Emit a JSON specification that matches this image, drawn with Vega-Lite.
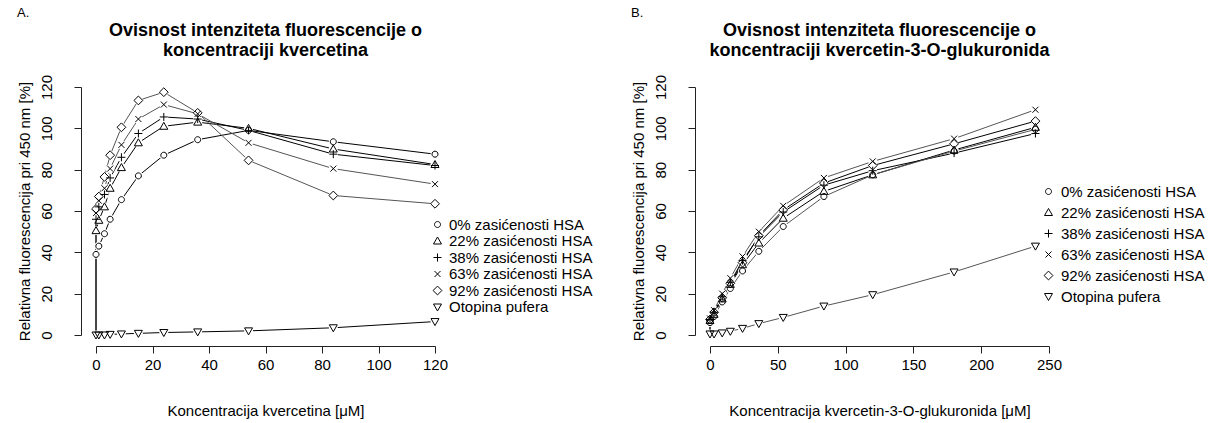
{
  "$schema": "https://vega.github.io/schema/vega-lite/v6.json",
  "background": "white",
  "padding": {"left": 16, "top": 7, "right": 5, "bottom": 5},
  "config": {
    "font": "Liberation Sans",
    "view": {"stroke": null},
    "axis": {"grid": false, "domainColor": "#222", "tickColor": "#222", "labelColor": "#000", "titleColor": "#000", "labelFontSize": 15, "titleFontSize": 15, "titleFontWeight": "normal", "labelFlush": false, "labelOverlap": false, "tickSize": 7},
    "title": {"color": "#000"}
  },
  "datasets": {
    "a": [
      {"c": 0, "f": 0, "s": "0% zasićenosti HSA"}, {"c": 0, "f": 39, "s": "0% zasićenosti HSA"}, {"c": 1, "f": 43, "s": "0% zasićenosti HSA"}, {"c": 3, "f": 49, "s": "0% zasićenosti HSA"}, {"c": 5, "f": 56, "s": "0% zasićenosti HSA"}, {"c": 9, "f": 65.5, "s": "0% zasićenosti HSA"}, {"c": 15, "f": 77, "s": "0% zasićenosti HSA"}, {"c": 24, "f": 87, "s": "0% zasićenosti HSA"}, {"c": 36, "f": 94.5, "s": "0% zasićenosti HSA"}, {"c": 54, "f": 99, "s": "0% zasićenosti HSA"}, {"c": 84, "f": 93.5, "s": "0% zasićenosti HSA"}, {"c": 120, "f": 87.5, "s": "0% zasićenosti HSA"},
      {"c": 0, "f": 0, "s": "22% zasićenosti HSA"}, {"c": 0, "f": 50.5, "s": "22% zasićenosti HSA"}, {"c": 1, "f": 55.5, "s": "22% zasićenosti HSA"}, {"c": 3, "f": 62, "s": "22% zasićenosti HSA"}, {"c": 5, "f": 71, "s": "22% zasićenosti HSA"}, {"c": 9, "f": 81, "s": "22% zasićenosti HSA"}, {"c": 15, "f": 93, "s": "22% zasićenosti HSA"}, {"c": 24, "f": 101, "s": "22% zasićenosti HSA"}, {"c": 36, "f": 103, "s": "22% zasićenosti HSA"}, {"c": 54, "f": 100, "s": "22% zasićenosti HSA"}, {"c": 84, "f": 90, "s": "22% zasićenosti HSA"}, {"c": 120, "f": 82.5, "s": "22% zasićenosti HSA"},
      {"c": 0, "f": 0, "s": "38% zasićenosti HSA"}, {"c": 0, "f": 56, "s": "38% zasićenosti HSA"}, {"c": 1, "f": 62, "s": "38% zasićenosti HSA"}, {"c": 3, "f": 68, "s": "38% zasićenosti HSA"}, {"c": 5, "f": 76, "s": "38% zasićenosti HSA"}, {"c": 9, "f": 86, "s": "38% zasićenosti HSA"}, {"c": 15, "f": 97.5, "s": "38% zasićenosti HSA"}, {"c": 24, "f": 105.5, "s": "38% zasićenosti HSA"}, {"c": 36, "f": 104.5, "s": "38% zasićenosti HSA"}, {"c": 54, "f": 99, "s": "38% zasićenosti HSA"}, {"c": 84, "f": 87.5, "s": "38% zasićenosti HSA"}, {"c": 120, "f": 82, "s": "38% zasićenosti HSA"},
      {"c": 0, "f": 0, "s": "63% zasićenosti HSA"}, {"c": 0, "f": 59, "s": "63% zasićenosti HSA"}, {"c": 1, "f": 65, "s": "63% zasićenosti HSA"}, {"c": 3, "f": 71, "s": "63% zasićenosti HSA"}, {"c": 5, "f": 80.5, "s": "63% zasićenosti HSA"}, {"c": 9, "f": 92, "s": "63% zasićenosti HSA"}, {"c": 15, "f": 104.5, "s": "63% zasićenosti HSA"}, {"c": 24, "f": 111.5, "s": "63% zasićenosti HSA"}, {"c": 36, "f": 107, "s": "63% zasićenosti HSA"}, {"c": 54, "f": 93, "s": "63% zasićenosti HSA"}, {"c": 84, "f": 80.5, "s": "63% zasićenosti HSA"}, {"c": 120, "f": 73, "s": "63% zasićenosti HSA"},
      {"c": 0, "f": 0, "s": "92% zasićenosti HSA"}, {"c": 0, "f": 61, "s": "92% zasićenosti HSA"}, {"c": 1, "f": 67, "s": "92% zasićenosti HSA"}, {"c": 3, "f": 76.5, "s": "92% zasićenosti HSA"}, {"c": 5, "f": 87, "s": "92% zasićenosti HSA"}, {"c": 9, "f": 100.5, "s": "92% zasićenosti HSA"}, {"c": 15, "f": 113.5, "s": "92% zasićenosti HSA"}, {"c": 24, "f": 117.5, "s": "92% zasićenosti HSA"}, {"c": 36, "f": 107.5, "s": "92% zasićenosti HSA"}, {"c": 54, "f": 84.5, "s": "92% zasićenosti HSA"}, {"c": 84, "f": 67.5, "s": "92% zasićenosti HSA"}, {"c": 120, "f": 63.5, "s": "92% zasićenosti HSA"},
      {"c": 0, "f": 0, "s": "Otopina pufera"}, {"c": 1, "f": 0, "s": "Otopina pufera"}, {"c": 3, "f": 0, "s": "Otopina pufera"}, {"c": 5, "f": 0.3, "s": "Otopina pufera"}, {"c": 9, "f": 0.5, "s": "Otopina pufera"}, {"c": 15, "f": 0.8, "s": "Otopina pufera"}, {"c": 24, "f": 1.2, "s": "Otopina pufera"}, {"c": 36, "f": 1.5, "s": "Otopina pufera"}, {"c": 54, "f": 2, "s": "Otopina pufera"}, {"c": 84, "f": 3.5, "s": "Otopina pufera"}, {"c": 120, "f": 6.5, "s": "Otopina pufera"}
    ],
    "b": [
      {"c": 0, "f": 0, "s": "0% zasićenosti HSA"}, {"c": 0, "f": 6, "s": "0% zasićenosti HSA"}, {"c": 3, "f": 9, "s": "0% zasićenosti HSA"}, {"c": 9, "f": 16, "s": "0% zasićenosti HSA"}, {"c": 15, "f": 22.5, "s": "0% zasićenosti HSA"}, {"c": 24, "f": 31, "s": "0% zasićenosti HSA"}, {"c": 36, "f": 40.5, "s": "0% zasićenosti HSA"}, {"c": 54, "f": 52.5, "s": "0% zasićenosti HSA"}, {"c": 84, "f": 67, "s": "0% zasićenosti HSA"}, {"c": 120, "f": 77.5, "s": "0% zasićenosti HSA"}, {"c": 180, "f": 89, "s": "0% zasićenosti HSA"}, {"c": 240, "f": 99.5, "s": "0% zasićenosti HSA"},
      {"c": 0, "f": 0, "s": "22% zasićenosti HSA"}, {"c": 0, "f": 7, "s": "22% zasićenosti HSA"}, {"c": 3, "f": 10, "s": "22% zasićenosti HSA"}, {"c": 9, "f": 17.5, "s": "22% zasićenosti HSA"}, {"c": 15, "f": 24.5, "s": "22% zasićenosti HSA"}, {"c": 24, "f": 34, "s": "22% zasićenosti HSA"}, {"c": 36, "f": 44.5, "s": "22% zasićenosti HSA"}, {"c": 54, "f": 56.5, "s": "22% zasićenosti HSA"}, {"c": 84, "f": 69.5, "s": "22% zasićenosti HSA"}, {"c": 120, "f": 77.5, "s": "22% zasićenosti HSA"}, {"c": 180, "f": 89.5, "s": "22% zasićenosti HSA"}, {"c": 240, "f": 100.5, "s": "22% zasićenosti HSA"},
      {"c": 0, "f": 0, "s": "38% zasićenosti HSA"}, {"c": 0, "f": 7.5, "s": "38% zasićenosti HSA"}, {"c": 3, "f": 11, "s": "38% zasićenosti HSA"}, {"c": 9, "f": 18.5, "s": "38% zasićenosti HSA"}, {"c": 15, "f": 25.5, "s": "38% zasićenosti HSA"}, {"c": 24, "f": 36, "s": "38% zasićenosti HSA"}, {"c": 36, "f": 47.5, "s": "38% zasićenosti HSA"}, {"c": 54, "f": 59.5, "s": "38% zasićenosti HSA"}, {"c": 84, "f": 72.5, "s": "38% zasićenosti HSA"}, {"c": 120, "f": 79.5, "s": "38% zasićenosti HSA"}, {"c": 180, "f": 88, "s": "38% zasićenosti HSA"}, {"c": 240, "f": 97.5, "s": "38% zasićenosti HSA"},
      {"c": 0, "f": 0, "s": "63% zasićenosti HSA"}, {"c": 0, "f": 8, "s": "63% zasićenosti HSA"}, {"c": 3, "f": 12, "s": "63% zasićenosti HSA"}, {"c": 9, "f": 20, "s": "63% zasićenosti HSA"}, {"c": 15, "f": 27.5, "s": "63% zasićenosti HSA"}, {"c": 24, "f": 38, "s": "63% zasićenosti HSA"}, {"c": 36, "f": 50, "s": "63% zasićenosti HSA"}, {"c": 54, "f": 62.5, "s": "63% zasićenosti HSA"}, {"c": 84, "f": 76, "s": "63% zasićenosti HSA"}, {"c": 120, "f": 84, "s": "63% zasićenosti HSA"}, {"c": 180, "f": 95, "s": "63% zasićenosti HSA"}, {"c": 240, "f": 109, "s": "63% zasićenosti HSA"},
      {"c": 0, "f": 0, "s": "92% zasićenosti HSA"}, {"c": 0, "f": 7.5, "s": "92% zasićenosti HSA"}, {"c": 3, "f": 11, "s": "92% zasićenosti HSA"}, {"c": 9, "f": 18, "s": "92% zasićenosti HSA"}, {"c": 15, "f": 25, "s": "92% zasićenosti HSA"}, {"c": 24, "f": 35, "s": "92% zasićenosti HSA"}, {"c": 36, "f": 48, "s": "92% zasićenosti HSA"}, {"c": 54, "f": 60.5, "s": "92% zasićenosti HSA"}, {"c": 84, "f": 73.5, "s": "92% zasićenosti HSA"}, {"c": 120, "f": 82, "s": "92% zasićenosti HSA"}, {"c": 180, "f": 92.5, "s": "92% zasićenosti HSA"}, {"c": 240, "f": 103.5, "s": "92% zasićenosti HSA"},
      {"c": 0, "f": 0.5, "s": "Otopina pufera"}, {"c": 3, "f": 0.5, "s": "Otopina pufera"}, {"c": 9, "f": 1, "s": "Otopina pufera"}, {"c": 15, "f": 1.8, "s": "Otopina pufera"}, {"c": 24, "f": 3.2, "s": "Otopina pufera"}, {"c": 36, "f": 5.5, "s": "Otopina pufera"}, {"c": 54, "f": 8.5, "s": "Otopina pufera"}, {"c": 84, "f": 14, "s": "Otopina pufera"}, {"c": 120, "f": 19.5, "s": "Otopina pufera"}, {"c": 180, "f": 30.5, "s": "Otopina pufera"}, {"c": 240, "f": 43, "s": "Otopina pufera"}
    ]
  },
  "resolve": {"scale": {"x": "independent", "y": "independent", "shape": "independent"}, "legend": {"shape": "independent"}},
  "spacing": 37,
  "hconcat": [
    {
      "title": {"text": "A.", "anchor": "start", "frame": "bounds", "fontSize": 13, "fontWeight": "normal", "offset": 2},
      "resolve": {"scale": {"shape": "independent"}, "legend": {"shape": "independent"}},
      "vconcat": [
        {
          "width": 339, "height": 248,
          "title": {"text": ["Ovisnost intenziteta fluorescencije o", "koncentraciji kvercetina"], "fontSize": 18, "fontWeight": "bold", "lineHeight": 20, "anchor": "middle", "offset": 14},
          "data": {"name": "a"},
          "encoding": {
            "x": {"field": "c", "type": "quantitative", "scale": {"domain": [0, 120], "nice": false, "zero": false},
                  "axis": {"values": [0, 20, 40, 60, 80, 100, 120], "offset": 11, "labelPadding": 4, "titlePadding": 31, "title": "Koncentracija kvercetina [μM]"}},
            "y": {"field": "f", "type": "quantitative", "scale": {"domain": [0, 120], "nice": false, "zero": false},
                  "axis": {"values": [0, 20, 40, 60, 80, 100, 120], "offset": 15, "labelAngle": -90, "labelAlign": "center", "labelBaseline": "bottom", "labelPadding": 20, "titlePadding": 7, "title": "Relativna fluorescencija pri 450 nm [%]"}}
          },
          "layer": [
            {"transform": [{"filter": {"field": "s", "oneOf": ["0% zasićenosti HSA", "22% zasićenosti HSA", "38% zasićenosti HSA", "Otopina pufera"]}}],
             "mark": {"type": "line", "strokeWidth": 1, "color": "#000"},
             "encoding": {"detail": {"field": "s", "type": "nominal"}}},
            {"transform": [{"filter": {"field": "s", "oneOf": ["63% zasićenosti HSA", "92% zasićenosti HSA"]}}],
             "mark": {"type": "line", "strokeWidth": 1, "color": "#555"},
             "encoding": {"detail": {"field": "s", "type": "nominal"}}},
            {"transform": [{"filter": "datum.f > 0 || datum.s == 'Otopina pufera'"}],
             "mark": {"type": "point", "filled": true, "color": "white", "opacity": 1, "size": 80, "strokeWidth": 0},
             "encoding": {"detail": {"field": "s", "type": "nominal"}}},
            {"transform": [{"filter": "datum.f > 0 || datum.s == 'Otopina pufera'"}],
             "mark": {"type": "point", "filled": false, "opacity": 1, "strokeWidth": 1, "color": "#000", "size": 64},
             "encoding": {
               "shape": {"field": "s", "type": "nominal", "title": null,
                         "scale": {"domain": ["0% zasićenosti HSA", "22% zasićenosti HSA", "38% zasićenosti HSA", "63% zasićenosti HSA", "92% zasićenosti HSA", "Otopina pufera"],
                                   "range": ["M-0.75,0A0.75,0.75,0,1,0,0.75,0A0.75,0.75,0,1,0,-0.75,0Z", "M0,-1L1,0.75L-1,0.75Z", "M-1,0L1,0M0,-1L0,1", "M-0.75,-0.75L0.75,0.75M-0.75,0.75L0.75,-0.75", "M0,-1.1L1.1,0L0,1.1L-1.1,0Z", "M0,1L1,-0.75L-1,-0.75Z"]},
                         "legend": {"orient": "none", "legendX": 334, "legendY": 130, "labelFontSize": 15, "labelColor": "#000", "symbolSize": 64, "symbolStrokeColor": "#000", "symbolStrokeWidth": 1, "padding": 0, "rowPadding": 0.5, "labelOffset": 4, "labelLimit": 300}}
             }}
          ]
        }
      ]
    },
    {
      "title": {"text": "B.", "anchor": "start", "frame": "bounds", "fontSize": 13, "fontWeight": "normal", "offset": 2},
      "resolve": {"scale": {"shape": "independent"}, "legend": {"shape": "independent"}},
      "vconcat": [
        {
          "width": 339, "height": 248,
          "title": {"text": ["Ovisnost intenziteta fluorescencije o", "koncentraciji kvercetin-3-O-glukuronida"], "fontSize": 18, "fontWeight": "bold", "lineHeight": 20, "anchor": "middle", "offset": 14},
          "data": {"name": "b"},
          "encoding": {
            "x": {"field": "c", "type": "quantitative", "scale": {"domain": [0, 250], "nice": false, "zero": false},
                  "axis": {"values": [0, 50, 100, 150, 200, 250], "offset": 11, "labelPadding": 4, "titlePadding": 31, "title": "Koncentracija kvercetin-3-O-glukuronida [μM]"}},
            "y": {"field": "f", "type": "quantitative", "scale": {"domain": [0, 120], "nice": false, "zero": false},
                  "axis": {"values": [0, 20, 40, 60, 80, 100, 120], "offset": 15, "labelAngle": -90, "labelAlign": "center", "labelBaseline": "bottom", "labelPadding": 20, "titlePadding": 7, "title": "Relativna fluorescencija pri 450 nm [%]"}}
          },
          "layer": [
            {"transform": [{"filter": {"field": "s", "oneOf": ["22% zasićenosti HSA", "38% zasićenosti HSA", "92% zasićenosti HSA"]}}],
             "mark": {"type": "line", "strokeWidth": 1, "color": "#000"},
             "encoding": {"detail": {"field": "s", "type": "nominal"}}},
            {"transform": [{"filter": {"field": "s", "oneOf": ["0% zasićenosti HSA", "63% zasićenosti HSA", "Otopina pufera"]}}],
             "mark": {"type": "line", "strokeWidth": 1, "color": "#555"},
             "encoding": {"detail": {"field": "s", "type": "nominal"}}},
            {"transform": [{"filter": "datum.f > 0.6 || datum.s == 'Otopina pufera'"}],
             "mark": {"type": "point", "filled": true, "color": "white", "opacity": 1, "size": 80, "strokeWidth": 0},
             "encoding": {"detail": {"field": "s", "type": "nominal"}}},
            {"transform": [{"filter": "datum.f > 0.6 || datum.s == 'Otopina pufera'"}],
             "mark": {"type": "point", "filled": false, "opacity": 1, "strokeWidth": 1, "color": "#000", "size": 64},
             "encoding": {
               "shape": {"field": "s", "type": "nominal", "title": null,
                         "scale": {"domain": ["0% zasićenosti HSA", "22% zasićenosti HSA", "38% zasićenosti HSA", "63% zasićenosti HSA", "92% zasićenosti HSA", "Otopina pufera"],
                                   "range": ["M-0.75,0A0.75,0.75,0,1,0,0.75,0A0.75,0.75,0,1,0,-0.75,0Z", "M0,-1L1,0.75L-1,0.75Z", "M-1,0L1,0M0,-1L0,1", "M-0.75,-0.75L0.75,0.75M-0.75,0.75L0.75,-0.75", "M0,-1.1L1.1,0L0,1.1L-1.1,0Z", "M0,1L1,-0.75L-1,-0.75Z"]},
                         "legend": {"orient": "none", "legendX": 331, "legendY": 97, "labelFontSize": 15, "labelColor": "#000", "symbolSize": 64, "symbolStrokeColor": "#000", "symbolStrokeWidth": 1, "padding": 0, "rowPadding": 5, "labelOffset": 5, "labelLimit": 300}}
             }}
          ]
        }
      ]
    }
  ]
}
